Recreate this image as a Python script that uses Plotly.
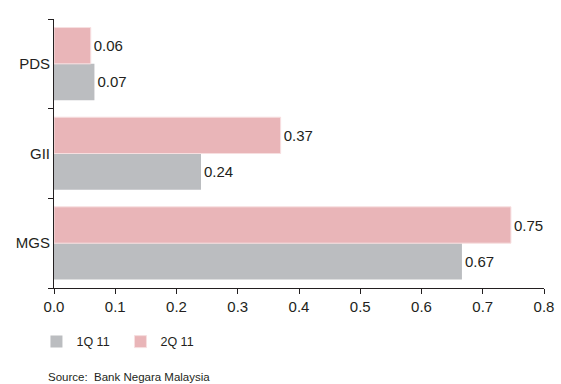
import plotly.graph_objects as go

categories = ["MGS", "GII", "PDS"]
q1_values = [0.666, 0.24, 0.066]
q2_values = [0.746, 0.37, 0.06]
series_names = ["1Q 11", "2Q 11"]
x_ticks = [0.0, 0.1, 0.2, 0.3, 0.4, 0.5, 0.6, 0.7, 0.8]
source_text = "Source:  Bank Negara Malaysia"

font_family = "Liberation Sans, Arial, sans-serif"
text_color = "#231f20"

fig = go.Figure()
fig.add_trace(go.Bar(
    y=categories, x=q1_values, name=series_names[0], orientation="h",
    marker=dict(color="#bbbdc0", line=dict(width=0)),
    texttemplate="%{x:.2f}", textposition="outside",
    textfont=dict(size=15, color=text_color, family=font_family),
    cliponaxis=False,
))
fig.add_trace(go.Bar(
    y=categories, x=q2_values, name=series_names[1], orientation="h",
    marker=dict(color="#e9b5b8", line=dict(width=1, color="#f7dfe0")),
    texttemplate="%{x:.2f}", textposition="outside",
    textfont=dict(size=15, color=text_color, family=font_family),
    cliponaxis=False,
))

fig.update_layout(
    width=561, height=384,
    margin=dict(l=54, r=17, t=19, b=96, autoexpand=False),
    paper_bgcolor="white", plot_bgcolor="white",
    barmode="group", bargap=0.19, bargroupgap=0,
    font=dict(family=font_family, size=15, color=text_color),
    showlegend=True,
    legend=dict(
        orientation="h", xref="paper", yref="paper",
        x=-0.0358, y=-0.2007, xanchor="left", yanchor="middle",
        font=dict(size=12.5, color=text_color, family=font_family),
        itemwidth=30, entrywidth=39, entrywidthmode="pixels",
        traceorder="normal", bgcolor="rgba(0,0,0,0)",
    ),
    annotations=[dict(
        text=source_text, xref="paper", yref="paper",
        x=-0.0164, y=-0.331, xanchor="left", yanchor="middle",
        showarrow=False, font=dict(size=11.5, color=text_color, family=font_family),
    )],
)
fig.update_xaxes(
    range=[0, 0.8], tickvals=x_ticks, ticktext=[f"{v:.1f}" for v in x_ticks],
    showgrid=False, zeroline=False, showline=True, linecolor="#231f20", linewidth=1,
    ticks="outside", ticklen=5, tickcolor="#231f20",
    tickfont=dict(size=15, color=text_color),
)
fig.update_yaxes(
    showgrid=False, zeroline=False, showline=True, linecolor="#231f20", linewidth=1,
    ticks="outside", ticklen=5, tickcolor="#231f20", tickson="boundaries",
    tickfont=dict(size=15, color=text_color),
)

fig.write_html("out.html")
